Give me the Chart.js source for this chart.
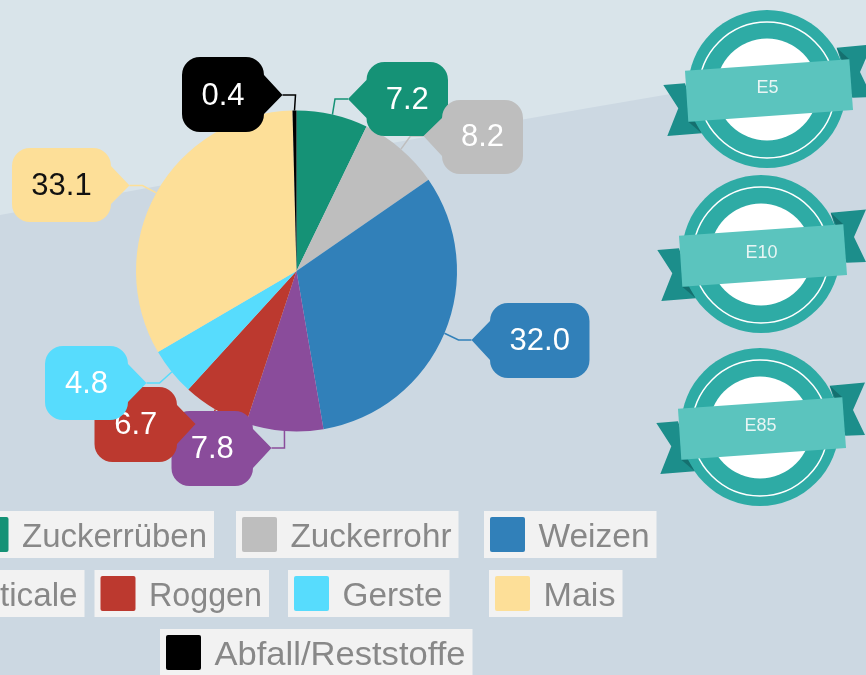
<!DOCTYPE html>
<html lang="de">
<head>
<meta charset="utf-8">
<title>Rohstoffe</title>
<script src="https://cdn.jsdelivr.net/npm/chart.js@4"></script>
<style>
html,body{margin:0;padding:0;background:#ccd8e2;overflow:hidden;width:866px;height:675px}
canvas{display:block;filter:blur(0.6px)}
</style>
</head>
<body>
<canvas id="c" width="866" height="675"></canvas>
<script>
const categories = ['Zuckerrüben','Zuckerrohr','Weizen','Triticale','Roggen','Gerste','Mais','Abfall/Reststoffe'];
const shares = [7.2,8.2,32.0,7.8,6.7,4.8,33.1,0.4];
const colours = ['#159276','#bebebe','#3180b9','#8a4c9b','#bc392f','#57dcfd','#fddf98','#000000'];
const labelInk = ['#ffffff','#ffffff','#ffffff','#ffffff','#ffffff','#ffffff','#111111','#ffffff'];
const badgeNames = ['E5','E10','E85'];

/* layout only: callout boxes [left, top, width, height, side of pointer, pointer centre y] */
const calloutBoxes = [
  [366.5,62,81.5,74,'left',99],
  [442,100,81,74,'left',136],
  [490,303,99.5,75,'left',340],
  [171.5,411,81.5,75,'right',448],
  [94.5,387,82.5,75,'right',424],
  [45,346,83,74,'right',383],
  [12,148,99,74,'right',185.5],
  [182,57,82,75,'right',95]
];
/* layout only: legend rows [swatch x, row top, text width] */
const legendSlots = [
  [-26.5,511,185],[242,511,161],[490,511,111],
  [-86,570,115],[100.5,570,113],[294,570,100],[495,570,72],
  [166,629,251]
];
const badgeSpots = [[767,89],[761,254],[760,427]];

function poly(ctx, pts){
  ctx.beginPath();
  pts.forEach((p,i)=> i ? ctx.lineTo(p[0],p[1]) : ctx.moveTo(p[0],p[1]));
  ctx.closePath();
  ctx.fill();
}
function callout(ctx, b, colour){
  const [x,y,w,h,side,py] = b, r = 18, tip = 18.5;
  ctx.beginPath();
  ctx.moveTo(x+r,y);
  ctx.arcTo(x+w,y,x+w,y+r,r);
  if(side==='right'){ ctx.lineTo(x+w+tip,py); ctx.lineTo(x+w,y+h-r); }
  else ctx.lineTo(x+w,y+h-r);
  ctx.arcTo(x+w,y+h,x+w-r,y+h,r);
  ctx.arcTo(x,y+h,x,y+h-r,r);
  if(side==='left'){ ctx.lineTo(x-tip,py); ctx.lineTo(x,y+r); }
  else ctx.lineTo(x,y+r);
  ctx.arcTo(x,y,x+r,y,r);
  ctx.closePath();
  ctx.fillStyle = colour;
  ctx.fill();
}
const backdrop = {
  id:'backdrop',
  beforeDraw(chart){
    const ctx = chart.ctx;
    ctx.save();
    ctx.fillStyle = '#ccd8e2';
    ctx.fillRect(0,0,866,675);
    ctx.fillStyle = '#d9e4ea';
    ctx.beginPath();
    ctx.moveTo(0,0);ctx.lineTo(866,0);ctx.lineTo(866,62);
    ctx.quadraticCurveTo(600,104,300,160);
    ctx.lineTo(0,215);
    ctx.closePath();
    ctx.fill();
    ctx.restore();
  }
};
const badges = {
  id:'badges',
  afterDraw(chart){
    const ctx = chart.ctx;
    badgeSpots.forEach((s,i)=>{
      ctx.save();
      ctx.translate(s[0],s[1]);
      ctx.fillStyle='#1c8e8b';
      poly(ctx,[[-103.7,-4],[-82,-5.7],[-65.3,44.3],[-99.7,47],[-88.7,19.3]]);
      poly(ctx,[[69.7,-41.3],[105,-44.5],[93,-17],[105,8],[85.3,8.7]]);
      ctx.fillStyle='#2eaba5';
      ctx.beginPath();ctx.arc(0,0,79,0,Math.PI*2);ctx.fill();
      ctx.fillStyle='#ffffff';
      ctx.beginPath();ctx.arc(0,0.5,51,0,Math.PI*2);ctx.fill();
      ctx.strokeStyle='#ffffff';ctx.lineWidth=1.5;
      ctx.beginPath();ctx.arc(0,1,68,0,Math.PI*2);ctx.stroke();
      ctx.fillStyle='#15706f';
      poly(ctx,[[-78.7,32.7],[-65.3,44.3],[-72,33]]);
      poly(ctx,[[69.7,-41.3],[82.3,-29.7],[75,-29]]);
      ctx.fillStyle='#5bc4be';
      poly(ctx,[[-82,-18.3],[82.3,-29.7],[86,21],[-78.7,32.7]]);
      ctx.fillStyle='#e8f5f4';
      ctx.font='18px "Liberation Sans", Arial, sans-serif';
      ctx.textAlign='center';ctx.textBaseline='middle';
      ctx.fillText(badgeNames[i],0.5,-1);
      ctx.restore();
    });
  }
};
const sideLegend = {
  id:'sideLegend',
  afterDraw(chart){
    const ctx = chart.ctx;
    ctx.save();
    ctx.font='33px "Liberation Sans", Arial, sans-serif';
    ctx.textBaseline='alphabetic';ctx.textAlign='left';
    chart.data.labels.forEach((name,i)=>{
      const [sx,top,tw] = legendSlots[i];
      ctx.fillStyle='#f2f2f2';
      ctx.fillRect(sx-6,top,48.5+6+tw+7,47);
      ctx.fillStyle=chart.data.datasets[0].backgroundColor[i];
      ctx.beginPath();ctx.roundRect(sx,top+6,35,35,2);ctx.fill();
      ctx.fillStyle='#888888';
      ctx.save();
      ctx.translate(sx+48.5,top+36);
      ctx.scale(tw/ctx.measureText(name).width,1);
      ctx.fillText(name,0,0);
      ctx.restore();
    });
    ctx.restore();
  }
};
const callouts = {
  id:'callouts',
  afterDatasetsDraw(chart){
    const ctx = chart.ctx, ds = chart.data.datasets[0];
    const arcs = chart.getDatasetMeta(0).data;
    ctx.save();
    arcs.forEach((arc,i)=>{
      const b = calloutBoxes[i];
      const mid = (arc.startAngle+arc.endAngle)/2;
      const ax = arc.x+Math.cos(mid)*arc.outerRadius, ay = arc.y+Math.sin(mid)*arc.outerRadius;
      const tipX = b[4]==='right' ? b[0]+b[2]+18.5 : b[0]-18.5;
      const elbowX = tipX + (b[4]==='right' ? 13 : -13);
      ctx.strokeStyle=ds.backgroundColor[i];ctx.lineWidth=1.5;
      ctx.beginPath();ctx.moveTo(ax,ay);ctx.lineTo(elbowX,b[5]);ctx.lineTo(tipX,b[5]);ctx.stroke();
    });
    arcs.forEach((arc,i)=>{
      const b = calloutBoxes[i];
      callout(ctx,b,ds.backgroundColor[i]);
      ctx.fillStyle=labelInk[i];
      ctx.font='31px "Liberation Sans", Arial, sans-serif';
      ctx.textAlign='center';ctx.textBaseline='middle';
      ctx.fillText(ds.data[i].toFixed(1),b[0]+b[2]/2,b[5]+1);
    });
    ctx.restore();
  }
};
new Chart(document.getElementById('c'),{
  type:'pie',
  data:{labels:categories,datasets:[{data:shares,backgroundColor:colours,borderWidth:0}]},
  options:{
    responsive:false,
    animation:false,
    layout:{padding:{left:136,top:110.5,right:409,bottom:243.5}},
    plugins:{legend:{display:false},tooltip:{enabled:false},title:{display:false}}
  },
  plugins:[backdrop,callouts,sideLegend,badges]
});
</script>
</body>
</html>
